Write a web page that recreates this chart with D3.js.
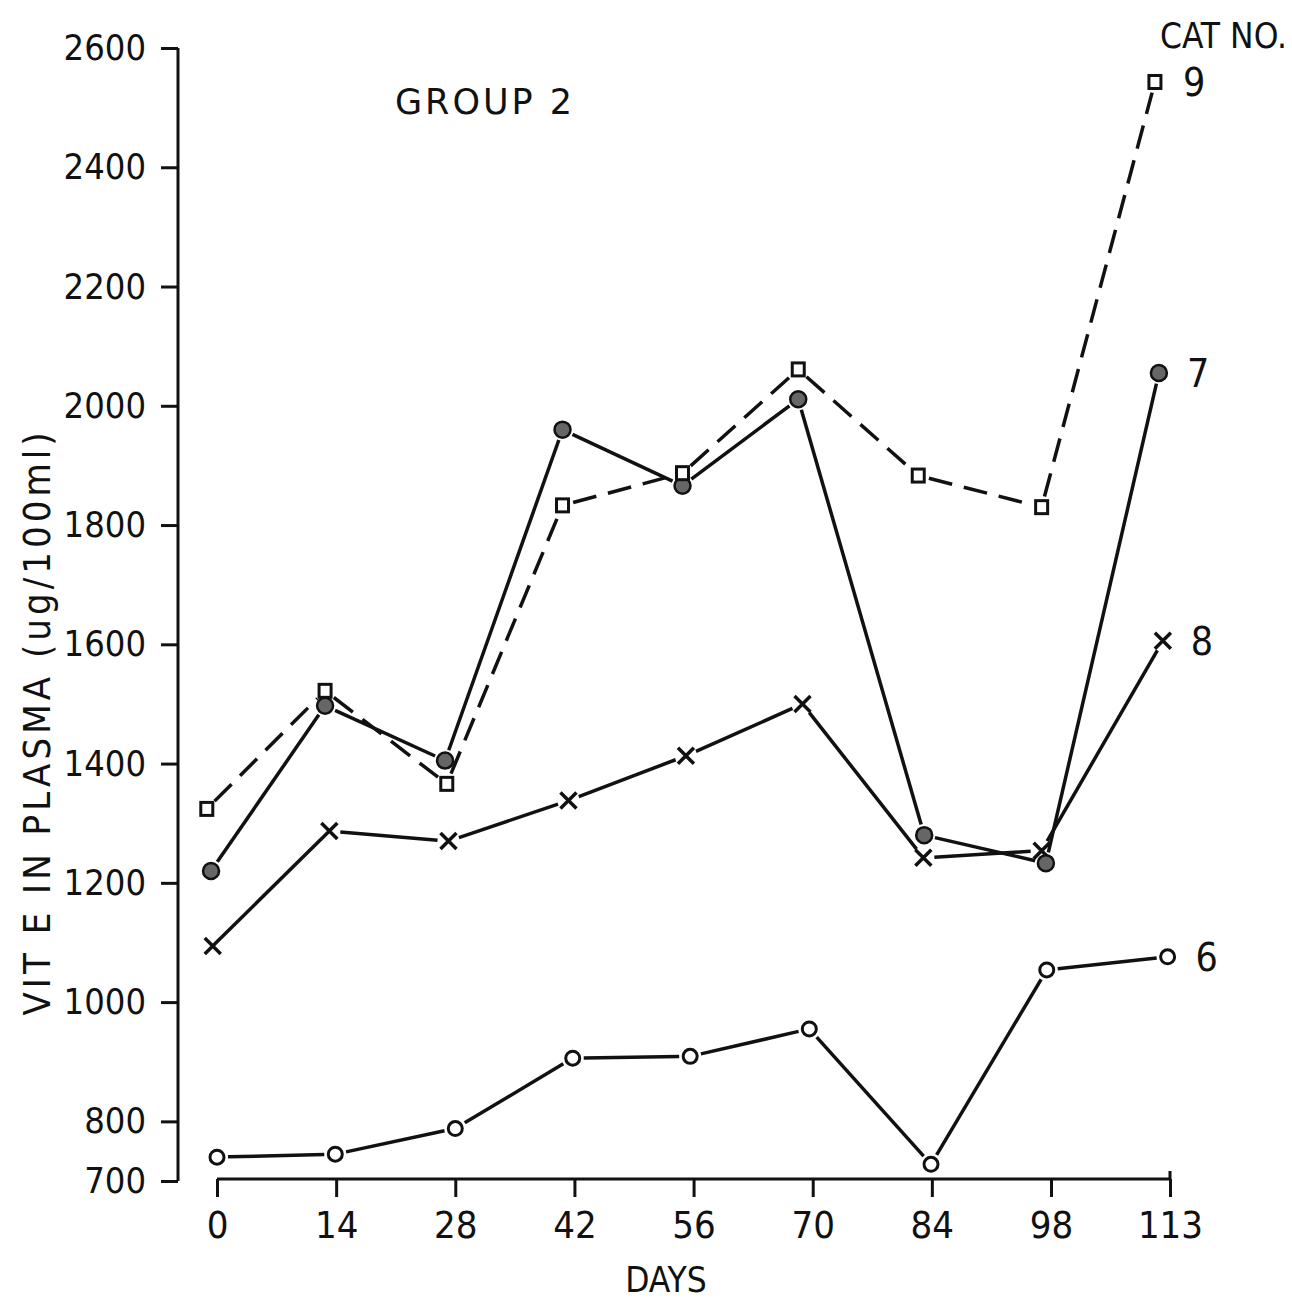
<!DOCTYPE html>
<html>
<head>
<meta charset="utf-8">
<script src="https://cdn.jsdelivr.net/npm/d3@7"></script>
<style>
	body { margin: 0; background: #fff; }
	svg text { font-family: "DejaVu Sans Condensed", "DejaVu Sans", sans-serif; fill: #111; }
	.axis path, .axis line { stroke: #111; stroke-width: 3; }
</style>
</head>
<body>
<div id="chart"></div>
<script>
//tick labels
var dayTicks = [0, 14, 28, 42, 56, 70, 84, 98, 113];
var vitTicks = [700, 800, 1000, 1200, 1400, 1600, 1800, 2000, 2200, 2400, 2600];

//values (days are where the points actually sit)
var cat6Days = [0, 13.9, 28, 41.8, 55.6, 69.6, 83.9, 97.5, 112.7];
var cat6Vals = [740, 745, 788, 906, 909, 955, 728, 1054, 1076];

var cat7Days = [-0.7, 12.7, 26.8, 40.6, 54.7, 68.3, 83.1, 97.4, 111.6];
var cat7Vals = [1220, 1497, 1405, 1960, 1866, 2011, 1280, 1233, 2055];

var cat8Days = [-0.5, 13.2, 27.2, 41.3, 55.1, 68.8, 83, 96.9, 112.1];
var cat8Vals = [1094, 1287, 1270, 1338, 1413, 1500, 1242, 1254, 1606];

var cat9Days = [-1.2, 12.7, 27, 40.6, 54.7, 68.3, 82.4, 96.9, 111.1];
var cat9Vals = [1324, 1522, 1366, 1833, 1887, 2061, 1883, 1830, 2543];

var series = [
	{cat: "6", days: cat6Days, vals: cat6Vals, marker: "open", dash: null},
	{cat: "8", days: cat8Days, vals: cat8Vals, marker: "cross", dash: null},
	{cat: "7", days: cat7Days, vals: cat7Vals, marker: "filled", dash: null},
	{cat: "9", days: cat9Days, vals: cat9Vals, marker: "square", dash: "24,12"}
];

var W = 1292, H = 1303;
var svg = d3.select("#chart").append("svg")
	.attr("width", W)
	.attr("height", H);

//x ticks are evenly spaced even though the last one is 113
var x = d3.scaleLinear()
	.domain([0, 98, 113])
	.range([217, 1051, 1170]);

var y = d3.scaleLinear()
	.domain([700, 2600])
	.range([1181, 48]);

var axisX = 178, axisY = 1179;

// y axis
var yAxis = d3.axisLeft(y)
	.tickValues(vitTicks)
	.tickFormat(d3.format("d"))
	.tickSize(17)
	.tickPadding(15)
	.tickSizeOuter(0);
var gy = svg.append("g")
	.attr("class", "axis")
	.attr("transform", "translate(" + axisX + ",0)")
	.call(yAxis);
gy.select(".domain").attr("d", "M0," + y(2600) + "V" + y(700));
gy.selectAll("text").style("font-size", "36px");

// x axis
var xAxis = d3.axisBottom(x)
	.tickValues(dayTicks)
	.tickSize(18)
	.tickPadding(14)
	.tickSizeOuter(0);
var gx = svg.append("g")
	.attr("class", "axis")
	.attr("transform", "translate(0," + axisY + ")")
	.call(xAxis);
gx.select(".domain").attr("d", "M" + x(0) + ",0H" + x(113) + "V-8");
gx.selectAll("text").style("font-size", "38px");

svg.append("text")
	.attr("x", 666)
	.attr("y", 1292)
	.attr("text-anchor", "middle")
	.style("font-size", "35px")
	.text("DAYS");

svg.append("text")
	.attr("transform", "translate(50,722) rotate(-90)")
	.attr("text-anchor", "middle")
	.style("font-size", "38px")
	.style("letter-spacing", "4px")
	.text("VIT E IN PLASMA (ug/100ml)");

svg.append("text")
	.attr("x", 395)
	.attr("y", 114)
	.style("font-family", "DejaVu Sans")
	.style("font-size", "35px")
	.style("letter-spacing", "3px")
	.text("GROUP 2");

svg.append("text")
	.attr("x", 1287)
	.attr("y", 48)
	.attr("text-anchor", "end")
	.style("font-size", "35px")
	.text("CAT NO.");

var gap = 11;

series.forEach(function(s) {
	var pts = s.days.map(function(d, i) { return [x(d), y(s.vals[i])]; });
	var g = svg.append("g");

	// segments stop short of the markers, as in the drawing
	for (var i = 0; i < pts.length - 1; i++) {
		var a = pts[i], b = pts[i + 1];
		var dx = b[0] - a[0], dy = b[1] - a[1];
		var len = Math.sqrt(dx * dx + dy * dy);
		var ux = dx / len, uy = dy / len;
		g.append("line")
			.attr("x1", a[0] + ux * gap)
			.attr("y1", a[1] + uy * gap)
			.attr("x2", b[0] - ux * gap)
			.attr("y2", b[1] - uy * gap)
			.attr("stroke", "#111")
			.attr("stroke-width", 3.5)
			.attr("stroke-dasharray", s.dash);
	}

	pts.forEach(function(p) {
		if (s.marker == "open") {
			g.append("circle").attr("cx", p[0]).attr("cy", p[1]).attr("r", 7)
				.attr("fill", "#fff").attr("stroke", "#111").attr("stroke-width", 3);
		} else if (s.marker == "filled") {
			g.append("circle").attr("cx", p[0]).attr("cy", p[1]).attr("r", 8)
				.attr("fill", "#666").attr("stroke", "#111").attr("stroke-width", 2.5);
		} else if (s.marker == "square") {
			g.append("rect").attr("x", p[0] - 6).attr("y", p[1] - 6.5).attr("width", 12).attr("height", 13)
				.attr("fill", "#fff").attr("stroke", "#111").attr("stroke-width", 3);
		} else {
			g.append("path")
				.attr("d", "M" + (p[0] - 8) + "," + (p[1] - 8) + "L" + (p[0] + 8) + "," + (p[1] + 8) +
					"M" + (p[0] + 8) + "," + (p[1] - 8) + "L" + (p[0] - 8) + "," + (p[1] + 8))
				.attr("stroke", "#111").attr("stroke-width", 3.5);
		}
	});

	var last = pts[pts.length - 1];
	svg.append("text")
		.attr("x", last[0] + 28)
		.attr("y", last[1] + 14)
		.style("font-size", "39px")
		.text(s.cat);
});
</script>
</body>
</html>
